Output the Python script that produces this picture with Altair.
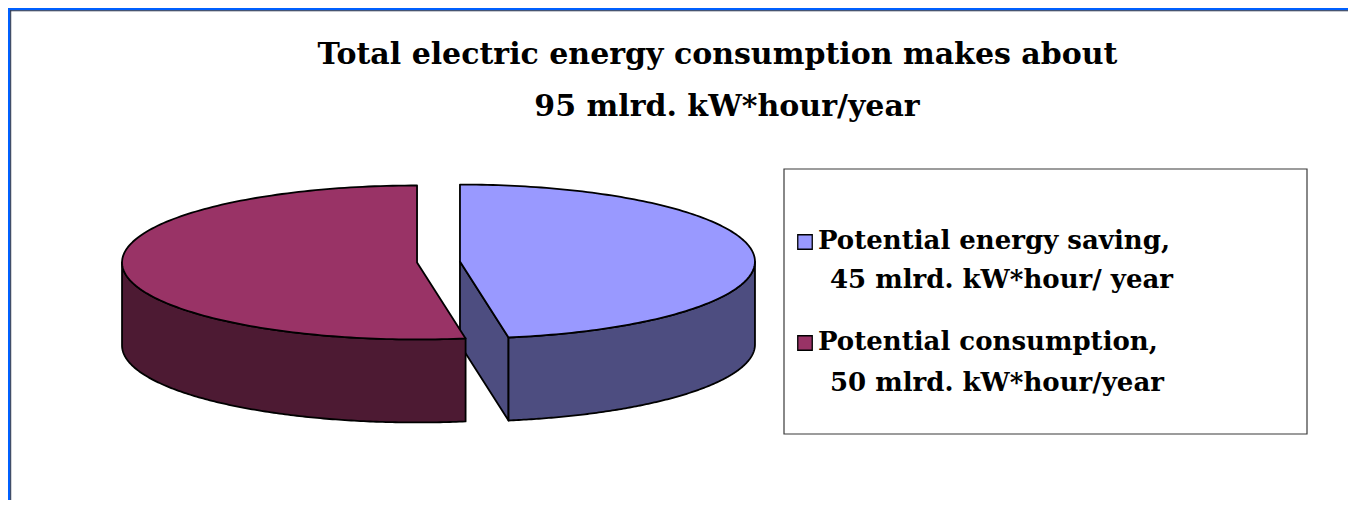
import math
import altair as alt
import pandas as pd

# ---------------- data ----------------
categories = ["Potential energy saving", "Potential consumption"]
values = [45, 50]
legend_line1 = ["Potential energy saving,", "Potential consumption,"]
legend_line2 = ["45 mlrd. kW*hour/ year", "50 mlrd. kW*hour/year"]
title_lines = ["Total electric energy consumption makes about", "95 mlrd. kW*hour/year"]
top_colors = ["#9999FF", "#993366"]
side_colors = ["#4D4D80", "#4D1A33"]

# ---------------- layout / style ----------------
W, H = 1340, 492
CX, CY = 430.5, 254.0          # centre of the (un-exploded) top ellipse
RX, RY, DEPTH = 295.0, 77.0, 83.0
EXPLODE = 0.073
FONT = "DejaVu Serif"
N = 160


def xs():
    return alt.X("x:Q", scale=alt.Scale(domain=[0, W], nice=False, zero=False), axis=None)


def ys():
    return alt.Y("y:Q", scale=alt.Scale(domain=[0, H], nice=False, zero=False, reverse=True), axis=None)


def rim(cx, cy, t_deg, drop=0.0):
    t = math.radians(t_deg)
    return (cx + RX * math.sin(t), cy - RY * math.cos(t) + drop)


def arc(cx, cy, a, b, drop=0.0):
    return [rim(cx, cy, a + (b - a) * k / N, drop) for k in range(N + 1)]


# slices computed from the values (clockwise from 12 o'clock)
total = sum(values)
slices = []
start = 0.0
for i, v in enumerate(values):
    a, b = start, start + 360.0 * v / total
    mid = math.radians((a + b) / 2)
    cx = CX + EXPLODE * RX * math.sin(mid)
    cy = CY - EXPLODE * RY * math.cos(mid)
    slices.append((i, a, b, cx, cy))
    start = b

polys = []  # (fill, points) in drawing order
for i, a, b, cx, cy in slices:
    # visible radial cut faces
    for ang, vis in ((a, math.sin(math.radians(a)) < -1e-6), (b, math.sin(math.radians(b)) > 1e-6)):
        if vis:
            p = rim(cx, cy, ang)
            pts = [(cx, cy), p, (p[0], p[1] + DEPTH), (cx, cy + DEPTH), (cx, cy)]
            polys.append((side_colors[i], pts))
    # visible outer wall (front half 90..270)
    lo, hi = max(a, 90.0), min(b, 270.0)
    if lo < hi:
        top = arc(cx, cy, lo, hi)
        bot = arc(cx, cy, lo, hi, DEPTH)[::-1]
        pts = top + bot + [top[0]]
        polys.append((side_colors[i], pts))
    # top face
    pts = [(cx, cy)] + arc(cx, cy, a, b) + [(cx, cy)]
    polys.append((top_colors[i], pts))

layers = []

# frame (blue border of the slide)
frame_df = pd.DataFrame({"x": [0, 0], "x2": [W, 2.2], "y": [0, 0], "y2": [2.2, H]})
layers.append(
    alt.Chart(frame_df).mark_rect(color="#0060FF").encode(
        x=xs(), x2="x2:Q", y=ys(), y2="y2:Q"
    )
)
edge_df = pd.DataFrame({"x": [2.2, 2.2], "x2": [W, 3.2], "y": [2.2, 2.2], "y2": [3.2, H]})
layers.append(
    alt.Chart(edge_df).mark_rect(color="#1E2A44").encode(
        x=xs(), x2="x2:Q", y=ys(), y2="y2:Q"
    )
)

# pie polygons
for pid, (fill, pts) in enumerate(polys):
    df = pd.DataFrame({"x": [p[0] for p in pts], "y": [p[1] for p in pts], "k": range(len(pts))})
    layers.append(
        alt.Chart(df).mark_line(
            fill=fill, stroke="black", strokeWidth=1.8, strokeJoin="round", strokeCap="round"
        ).encode(x=xs(), y=ys(), order="k:Q")
    )

# title
title_df = pd.DataFrame({"text": title_lines, "x": [709.5, 719.0], "y": [47.0, 99.0]})
layers.append(
    alt.Chart(title_df).mark_text(
        font=FONT, fontSize=30, fontWeight="bold", align="center", baseline="middle", color="black"
    ).encode(x=xs(), y=ys(), text="text:N")
)

# legend box
box_df = pd.DataFrame({"x": [776.0], "x2": [1299.0], "y": [161.0], "y2": [426.0]})
layers.append(
    alt.Chart(box_df).mark_rect(fill="white", stroke="#3a3a3a", strokeWidth=1.2).encode(
        x=xs(), x2="x2:Q", y=ys(), y2="y2:Q"
    )
)

leg_df = pd.DataFrame({
    "cat": categories,
    "color": top_colors,
    "x": [797.0] * len(categories),
    "y": [234.0 + 101.0 * k for k in range(len(categories))],
})
layers.append(
    alt.Chart(leg_df).mark_square(size=210, filled=True, stroke="black", strokeWidth=1.3, opacity=1).encode(
        x=xs(), y=ys(), fill=alt.Fill("color:N", scale=None)
    )
)

lt_rows = []
for k in range(len(categories)):
    lt_rows.append({"text": legend_line1[k], "x": 810.0, "y": 233.0 + 101.0 * k})
    lt_rows.append({"text": legend_line2[k], "x": 822.0, "y": 272.0 + 103.0 * k})
lt_df = pd.DataFrame(lt_rows)
layers.append(
    alt.Chart(lt_df).mark_text(
        font=FONT, fontSize=26, fontWeight="bold", align="left", baseline="middle", color="black"
    ).encode(x=xs(), y=ys(), text="text:N")
)

chart = alt.layer(*layers).properties(
    width=W, height=H, padding=0, background="white"
).configure_view(stroke=None)

chart.save("out.html", embed_options={"renderer": "svg", "actions": False})
